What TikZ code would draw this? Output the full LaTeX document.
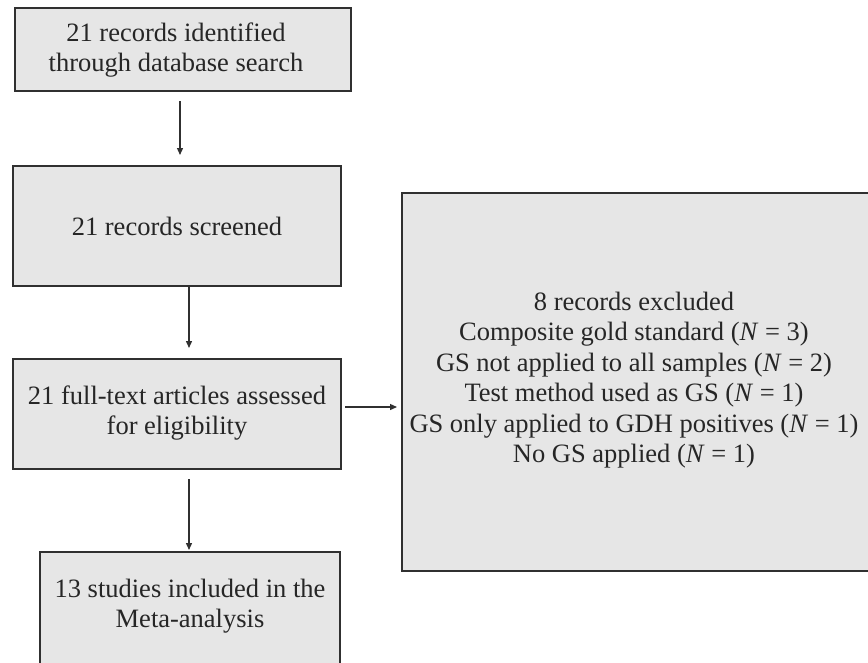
\documentclass[tikz,border=0pt]{standalone}
\usepackage{fontspec}
\setmainfont{Liberation Serif}
\usetikzlibrary{arrows.meta}
\definecolor{boxfill}{HTML}{E6E6E6}
\definecolor{boxline}{HTML}{303030}
\begin{document}
\begin{tikzpicture}[x=1pt,y=-1pt,
  box/.style={draw=boxline, line width=1.8pt, fill=boxfill, inner sep=0pt, outer sep=0pt},
  txt/.style={align=center, text=black!85, font=\fontsize{26.5}{30.5}\selectfont, inner sep=0pt},
  arr/.style={draw=boxline, line width=1.3pt, -{Triangle[length=7pt,width=6pt]}}]
\useasboundingbox (0,0) rectangle (868,662);
\fill[white] (0,0) rectangle (868,662);
\clip (0,0) rectangle (868,662);
% boxes
\node[box, minimum width=336pt, minimum height=83pt] (b1) at (183,49.5) {};
\node[box, minimum width=328pt, minimum height=120pt] (b2) at (177,226) {};
\node[box, minimum width=328pt, minimum height=110pt] (b3) at (177,414) {};
\node[box, minimum width=300pt, minimum height=130pt] (b4) at (190,617) {};
\node[box, minimum width=490pt, minimum height=378pt] (b5) at (647,382) {};
% texts
\node[txt] (t1) at (176,50) {21 records identified\\through database search};
\node[txt] (t2) at (177,226) {21 records screened};
\node[txt] (t3) at (177,413) {21 full-text articles assessed\\for eligibility};
\node[txt] (t4) at (190,606) {13 studies included in the\\Meta-analysis};
\node[txt] (t5) at (634,380) {8 records excluded\\
Composite gold standard (\textit{N} = 3)\\
GS not applied to all samples (\textit{N} = 2)\\
Test method used as GS (\textit{N} = 1)\\
GS only applied to GDH positives (\textit{N} = 1)\\
No GS applied (\textit{N} = 1)};
% connectors
\coordinate (hstart) at ([xshift=4pt,yshift=7pt]b3.east);
\coordinate (hend) at ([xshift=-5pt]hstart -| b5.west);
\draw[arr] ([xshift=-3pt,yshift=-10pt]b1.south) -- ([xshift=3pt,yshift=11pt]b2.north);
\draw[arr] ([xshift=12pt]b2.south) -- ([xshift=12pt,yshift=11pt]b3.north);
\draw[arr] ([xshift=12pt,yshift=-10pt]b3.south) -- ([xshift=-1pt,yshift=2pt]b4.north);
\draw[arr] (hstart) -- (hend);
\end{tikzpicture}
\end{document}
